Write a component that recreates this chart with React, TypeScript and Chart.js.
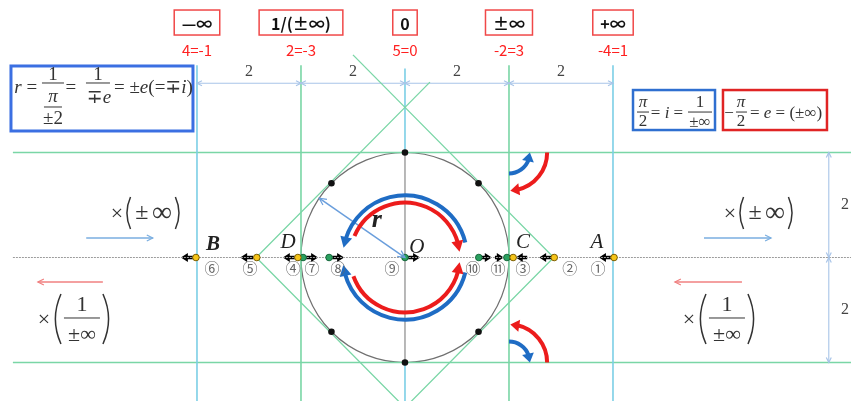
import React, { useEffect, useRef } from 'react';
import { Chart, registerables } from 'chart.js';
Chart.register(...registerables);

// ---------- data (in diagram units: grid step = 2, circle radius = 2) ----------
const gridX = [-4, -2, 0, 2, 4];
const gridY = [2, -2];
const topLabels = ['—∞', '1/(±∞)', '0', '±∞', '+∞'];
const redLabels = ['4=-1', '2=-3', '5=0', '-2=3', '-4=1'];
const spanLabels = ['2', '2', '2', '2'];
const spanX = [-3, -1, 1, 3];
const sideSpanLabels = ['2', '2'];
const sideSpanY = [1, -1];
const diamondX = [-2.86, 0, 2.86, 0, -2.86];
const diamondY = [0, 2.86, 0, -2.86, 0];
const extX = [-1, 0.48];
const extY = [3.86, 3.34];
const circleR = 2;
const dotAngles = [45, 90, 135, 225, 270, 315];
const yellowX = [-4.02, -2.85, -2.06, 2.08, 2.87, 4.02];
const greenX = [-1.96, -1.46, 0, 1.42, 1.96];
const axisArrowTail = [-4.08, -2.92, -2.12, -1.9, -1.4, 0.06, 1.48, 1.73, 2.35, 2.81, 3.96];
const axisArrowTip = [-4.31, -3.17, -2.35, -1.67, -1.17, 0.29, 1.67, 1.9, 2.13, 2.58, 3.73];
const pointLetters = ['B', 'D', 'O', 'C', 'A'];
const letterX = [-3.69, -2.25, 0.23, 2.27, 3.69];
const letterY = [0.24, 0.28, 0.2, 0.28, 0.28];
const circledLabels = ['⑥', '⑤', '④', '⑦', '⑧', '⑨', '⑩', '⑪', '③', '②', '①'];
const circledX = [-3.71, -2.98, -2.15, -1.79, -1.29, -0.25, 1.31, 1.79, 2.27, 3.17, 3.71];
const circledY = -0.2;
// inner arcs: radius, start angle, end angle (degrees, math orientation)
const innerArcR = [1.19, 1.05, 1.19, 1.05];
const innerArcFrom = [14, 157, -14, -160];
const innerArcTo = [171, 6, -173, -5];
const innerArcKind = ['blue', 'red', 'blue', 'red'];
// small arcs at (2, ±2)
const smallArcCY = [2, 2, -2, -2];
const smallArcR = [0.73, 0.4, 0.73, 0.4];
const smallArcFrom = [0, -90, 0, 90];
const smallArcTo = [-88, 0, 88, 0];
const smallArcKind = ['red', 'blue', 'red', 'blue'];
// thin direction arrows: tail x, tip x, y
const thinTail = [-6.13, 5.75, -5.81, 6.48];
const thinTip = [-4.85, 7.04, -7.06, 5.19];
const thinY = [0.371, 0.371, -0.467, -0.467];
const thinKind = ['blue', 'blue', 'red', 'red'];
const radiusTip = { x: -1.65, y: 1.13 };

const GREEN = '#7ad6a6';
const CYAN = '#7ccfe6';
const DIM = '#a8c4e8';
const SERIF = '"Liberation Serif", "DejaVu Serif", serif';
const CJK = '"Noto Sans CJK SC", "Noto Sans", sans-serif';
const BLUE = '#1f6cc4';
const RED = '#ec1c1c';

const X_MIN = -7.788, X_MAX = 8.577, Y_MIN = -2.733, Y_MAX = 4.905;
const H_START = -7.54, H_END = 8.6, V_TOP = 3.66, V_BOTTOM = -2.9, DIM_Y = 3.32, DIM_X = 8.15;

const lineDs = (data: any[], color: string, width: number, dash: number[] = []) => ({
  data, showLine: true, borderColor: color, borderWidth: width, borderDash: dash,
  pointRadius: 0, pointHoverRadius: 0, fill: false, tension: 0,
});

function head(ctx: any, tx: number, ty: number, ang: number, len: number, half: number, color: string, open = false) {
  const bx = tx - len * Math.cos(ang), by = ty - len * Math.sin(ang);
  const px = half * Math.sin(ang), py = -half * Math.cos(ang);
  ctx.beginPath();
  if (open) {
    ctx.moveTo(bx + px, by + py); ctx.lineTo(tx, ty); ctx.lineTo(bx - px, by - py);
    ctx.strokeStyle = color; ctx.lineWidth = 1.2; ctx.stroke();
  } else {
    ctx.moveTo(tx, ty); ctx.lineTo(bx + px, by + py); ctx.lineTo(bx - px, by - py); ctx.closePath();
    ctx.fillStyle = color; ctx.fill();
  }
}

const diagramPlugin = {
  id: 'diagram',
  beforeDatasetsDraw(chart: any) {
    const ctx = chart.ctx, xs = chart.scales.x, ys = chart.scales.y;
    const X = (v: number) => xs.getPixelForValue(v), Y = (v: number) => ys.getPixelForValue(v);
    ctx.save();
    ctx.beginPath();
    ctx.ellipse(X(0), Y(0), X(circleR) - X(0), Y(0) - Y(circleR), 0, 0, Math.PI * 2);
    ctx.strokeStyle = '#707070'; ctx.lineWidth = 1.2; ctx.stroke();
    axisArrowTail.forEach((t, i) => {
      const x0 = X(t), x1 = X(axisArrowTip[i]), y = Y(0);
      const dir = x1 > x0 ? 1 : -1;
      ctx.beginPath(); ctx.moveTo(x0, y); ctx.lineTo(x1 - dir * 6, y);
      ctx.strokeStyle = '#000'; ctx.lineWidth = 3.5; ctx.stroke();
      head(ctx, x1, y, dir > 0 ? 0 : Math.PI, 7, 4.5, '#000');
    });
    ctx.restore();
  },
  afterDatasetsDraw(chart: any) {
    const ctx = chart.ctx, xs = chart.scales.x, ys = chart.scales.y;
    const X = (v: number) => xs.getPixelForValue(v), Y = (v: number) => ys.getPixelForValue(v);
    const ux = X(1) - X(0), uy = Y(0) - Y(1), u = (ux + uy) / 2;
    ctx.save();
    const T = (s: string, x: number, y: number, font: string, color = '#333', align = 'center') => {
      ctx.font = font; ctx.fillStyle = color; ctx.textAlign = align; ctx.textBaseline = 'middle';
      ctx.fillText(s, x, y);
    };
    const runs = (list: [string, string][], x: number, y: number, color = '#333', center = false) => {
      ctx.textBaseline = 'middle'; ctx.textAlign = 'left'; ctx.fillStyle = color;
      let w = 0;
      list.forEach(([s, f]) => { ctx.font = f; w += ctx.measureText(s).width; });
      let cx = center ? x - w / 2 : x;
      list.forEach(([s, f]) => { ctx.font = f; ctx.fillText(s, cx, y); cx += ctx.measureText(s).width; });
    };
    const hline = (x0: number, x1: number, y: number, color = '#333', w = 1) => {
      ctx.beginPath(); ctx.moveTo(x0, y); ctx.lineTo(x1, y); ctx.strokeStyle = color; ctx.lineWidth = w; ctx.stroke();
    };
    const paren = (x: number, y1: number, y2: number, left: boolean) => {
      const b = (y2 - y1) * 0.16 * (left ? 1 : -1);
      ctx.beginPath(); ctx.moveTo(x + b * 0.5, y1);
      ctx.quadraticCurveTo(x - b * 0.9, (y1 + y2) / 2, x + b * 0.5, y2);
      ctx.strokeStyle = '#333'; ctx.lineWidth = 1.5; ctx.stroke();
    };

    // top red boxes
    topLabels.forEach((s, i) => {
      const cx = X(gridX[i]), cy = Y(4.476);
      const font = `bold 16px ${CJK}`;
      ctx.font = font;
      const tw = ctx.measureText(s).width;
      const w = tw + (s.length > 3 ? 24 : 15);
      ctx.strokeStyle = '#f04848'; ctx.lineWidth = 1.5;
      ctx.strokeRect(cx - w / 2, cy - 12.5, w, 25);
      T(s, cx, cy + 1, font, '#111');
      T(redLabels[i], cx, Y(3.95), `15px ${CJK}`, '#ff2020');
    });
    spanLabels.forEach((s, i) => T(s, X(spanX[i]), Y(3.53), `16px ${SERIF}`, '#444'));
    sideSpanLabels.forEach((s, i) => T(s, X(8.46), Y(sideSpanY[i]), `16px ${SERIF}`, '#444'));
    gridX.forEach((gx) => {
      const x = X(gx), y = Y(DIM_Y);
      if (gx > gridX[0]) head(ctx, x, y, 0, 5, 2.5, DIM, true);
      if (gx < gridX[gridX.length - 1]) head(ctx, x, y, Math.PI, 5, 2.5, DIM, true);
    });
    [2, 0, -2].forEach((gy) => {
      const x = X(DIM_X), y = Y(gy);
      if (gy < 2) head(ctx, x, y, Math.PI / 2, 5, 2.5, DIM, true);
      if (gy > -2) head(ctx, x, y, -Math.PI / 2, 5, 2.5, DIM, true);
    });

    // left formula box
    {
      const L = X(-7.577), Tp = Y(3.648);
      ctx.strokeStyle = '#3b6fe2'; ctx.lineWidth = 3; ctx.strokeRect(L, Tp, 182, 65);
      const f = `19px ${SERIF}`, fi = `italic 19px ${SERIF}`;
      T('r', L + 7, Tp + 22, fi);
      T('=', L + 21, Tp + 22, f);
      T('1', L + 42, Tp + 9, f); hline(L + 31, L + 53, Tp + 17);
      T('π', L + 42, Tp + 31, fi); hline(L + 33, L + 51, Tp + 41);
      T('±2', L + 42, Tp + 53, f);
      T('=', L + 60, Tp + 22, f);
      T('1', L + 87, Tp + 9, f); hline(L + 75, L + 99, Tp + 17);
      runs([['∓', f], ['e', fi]], L + 88, Tp + 32, '#333', true);
      runs([['= ±', f], ['e', fi], ['(=∓', f], ['i', fi], [')', f]], L + 103, Tp + 22);
    }
    // right formula boxes
    {
      const BL = X(4.385), BT = Y(3.19);
      const f = `17px ${SERIF}`, fi = `italic 17px ${SERIF}`;
      ctx.strokeStyle = '#2f6fd0'; ctx.lineWidth = 2.5; ctx.strokeRect(BL, BT, 82, 40);
      T('π', BL + 10, BT + 12, fi); hline(BL + 4, BL + 16, BT + 22); T('2', BL + 10, BT + 31, f);
      runs([['= ', f], ['i', fi], [' =', f]], BL + 34, BT + 23, '#333', true);
      T('1', BL + 67, BT + 12, f); hline(BL + 55, BL + 79, BT + 22); T('±∞', BL + 67, BT + 32, f);
      const RL = X(6.115);
      ctx.strokeStyle = '#e02424'; ctx.lineWidth = 2.5; ctx.strokeRect(RL, BT, 104, 40);
      T('−', RL + 6, BT + 23, f);
      T('π', RL + 18, BT + 12, fi); hline(RL + 13, RL + 24, BT + 22); T('2', RL + 18, BT + 31, f);
      runs([['= ', f], ['e', fi], [' = (±∞)', f]], RL + 27, BT + 23);
    }
    // side labels ×(±∞)
    [-5.635, 6.154].forEach((sx) => {
      const S = X(sx), y = Y(0.848);
      T('×', S + 5, y + 1, `22px ${SERIF}`);
      paren(S + 16, y - 16, y + 16, true);
      T('±', S + 30, y, `24px ${SERIF}`);
      T('∞', S + 50, y + 1, `28px ${SERIF}`);
      paren(S + 66, y - 16, y + 16, false);
    });
    // side labels ×(1/±∞)
    [-7.058, 5.346].forEach((sx) => {
      const S = X(sx), y = Y(-1.19);
      T('×', S + 6, y, `22px ${SERIF}`);
      paren(S + 19, y - 26, y + 24, true);
      T('1', S + 44, y - 15, `22px ${SERIF}`);
      hline(S + 26, S + 62, y - 2);
      T('±∞', S + 44, y + 15, `22px ${SERIF}`);
      paren(S + 69, y - 26, y + 24, false);
    });
    // thin arrows
    thinTail.forEach((t, i) => {
      const c = thinKind[i] === 'blue' ? '#7aaee0' : '#f08080';
      const x0 = X(t), x1 = X(thinTip[i]), y = Y(thinY[i]);
      ctx.beginPath(); ctx.moveTo(x0, y); ctx.lineTo(x1, y); ctx.strokeStyle = c; ctx.lineWidth = 1.6; ctx.stroke();
      head(ctx, x1, y, x1 > x0 ? 0 : Math.PI, 6, 3, c, true);
    });
    // radius arrow
    {
      const x0 = X(0), y0 = Y(0), x1 = X(radiusTip.x), y1 = Y(radiusTip.y);
      const c = '#6a9edc';
      ctx.beginPath(); ctx.moveTo(x0, y0); ctx.lineTo(x1, y1); ctx.strokeStyle = c; ctx.lineWidth = 1.5; ctx.stroke();
      const a = Math.atan2(y1 - y0, x1 - x0);
      head(ctx, x1, y1, a, 7, 3.5, c, true);
      head(ctx, x0, y0, a + Math.PI, 7, 3.5, c, true);
      T('r', X(-0.54), Y(0.71), `bold italic 26px ${SERIF}`, '#222');
    }
    // arcs with arrowheads
    const arcArrow = (cx: number, cy: number, r: number, a0: number, a1: number, color: string, w: number, hl: number, hw: number) => {
      const c0 = -a0 * Math.PI / 180, c1 = -a1 * Math.PI / 180;
      const ccwMath = a1 > a0;
      const back = hl / r;
      const c1s = ccwMath ? c1 + back * 0.8 : c1 - back * 0.8;
      ctx.beginPath(); ctx.arc(cx, cy, r, c0, c1s, ccwMath);
      ctx.strokeStyle = color; ctx.lineWidth = w; ctx.lineCap = 'butt'; ctx.stroke();
      const tx = cx + r * Math.cos(c1), ty = cy + r * Math.sin(c1);
      const pb = ccwMath ? c1 + back : c1 - back;
      const bx = cx + r * Math.cos(pb), by = cy + r * Math.sin(pb);
      head(ctx, tx, ty, Math.atan2(ty - by, tx - bx), hl, hw, color);
    };
    innerArcR.forEach((r, i) => {
      arcArrow(X(0), Y(0), r * u, innerArcFrom[i], innerArcTo[i], innerArcKind[i] === 'blue' ? BLUE : RED, 4, 11, 6);
    });
    smallArcR.forEach((r, i) => {
      arcArrow(X(2), Y(smallArcCY[i]), r * u, smallArcFrom[i], smallArcTo[i], smallArcKind[i] === 'blue' ? BLUE : RED, 4, 9, 6);
    });
    pointLetters.forEach((s, i) => {
      T(s, X(letterX[i]), Y(letterY[i]), `${s === 'B' ? 'bold ' : ''}italic 21px ${SERIF}`, '#222');
    });
    circledLabels.forEach((s, i) => T(s, X(circledX[i]), Y(circledY), `15px "Noto Sans CJK JP", "DejaVu Sans", sans-serif`, '#666'));
    ctx.restore();
  },
};

export default function App() {
  const ref = useRef<HTMLCanvasElement | null>(null);
  useEffect(() => {
    if (!ref.current) return;
    const datasets: any[] = [];
    // points first so they are drawn on top
    datasets.push({
      data: yellowX.map((x) => ({ x, y: 0 })),
      pointRadius: 3.3, backgroundColor: '#f5c419', borderColor: '#7a5c00', borderWidth: 1, showLine: false,
    });
    datasets.push({
      data: greenX.map((x) => ({ x, y: 0 })),
      pointRadius: 3.3, backgroundColor: '#2aa05f', borderColor: '#14663a', borderWidth: 1, showLine: false,
    });
    datasets.push({
      data: dotAngles.map((a) => ({ x: circleR * Math.cos(a * Math.PI / 180), y: circleR * Math.sin(a * Math.PI / 180) })),
      pointRadius: 3.3, backgroundColor: '#111', borderColor: '#111', borderWidth: 0, showLine: false,
    });
    datasets.push(lineDs(diamondX.map((x, i) => ({ x, y: diamondY[i] })), GREEN, 1.3));
    extX.forEach((x, i) => datasets.push(lineDs([{ x: 0, y: diamondY[1] }, { x, y: extY[i] }], GREEN, 1.3)));
    datasets.push(lineDs([{ x: gridX[0], y: DIM_Y }, { x: gridX[4], y: DIM_Y }], DIM, 1.1));
    datasets.push(lineDs([{ x: DIM_X, y: gridY[0] }, { x: DIM_X, y: gridY[1] }], DIM, 1.1));
    datasets.push(lineDs([{ x: 0, y: 3.6 }, { x: 0, y: circleR }], CYAN, 1.6));
    datasets.push(lineDs([{ x: 0, y: circleR }, { x: 0, y: -circleR }], '#8a8a8a', 1.2));
    datasets.push(lineDs([{ x: 0, y: -circleR }, { x: 0, y: V_BOTTOM }], CYAN, 1.6));
    gridX.filter((x) => x !== 0).forEach((x) =>
      datasets.push(lineDs([{ x, y: V_TOP }, { x, y: V_BOTTOM }], Math.abs(x) === 4 ? CYAN : GREEN, 1.6)));
    datasets.push(lineDs([{ x: H_START, y: 0 }, { x: H_END, y: 0 }], '#9c9c9c', 1.2, [2, 1]));
    gridY.forEach((y) => datasets.push(lineDs([{ x: H_START, y }, { x: H_END, y }], GREEN, 1.6)));
    const chart = new Chart(ref.current, {
      type: 'scatter',
      data: { datasets },
      options: {
        animation: false,
        responsive: false,
        maintainAspectRatio: false,
        events: [],
        layout: { padding: 0, autoPadding: false },
        plugins: { legend: { display: false }, tooltip: { enabled: false } },
        scales: {
          x: { type: 'linear', display: false, min: X_MIN, max: X_MAX },
          y: { type: 'linear', display: false, min: Y_MIN, max: Y_MAX },
        },
      } as any,
      plugins: [diagramPlugin as any],
    });
    return () => chart.destroy();
  }, []);
  return (
    <div style={{ position: 'fixed', left: 0, top: 0, width: 851, height: 401, background: '#fff' }}>
      <canvas ref={ref} width={851} height={401} style={{ display: 'block', width: 851, height: 401 }} />
    </div>
  );
}
